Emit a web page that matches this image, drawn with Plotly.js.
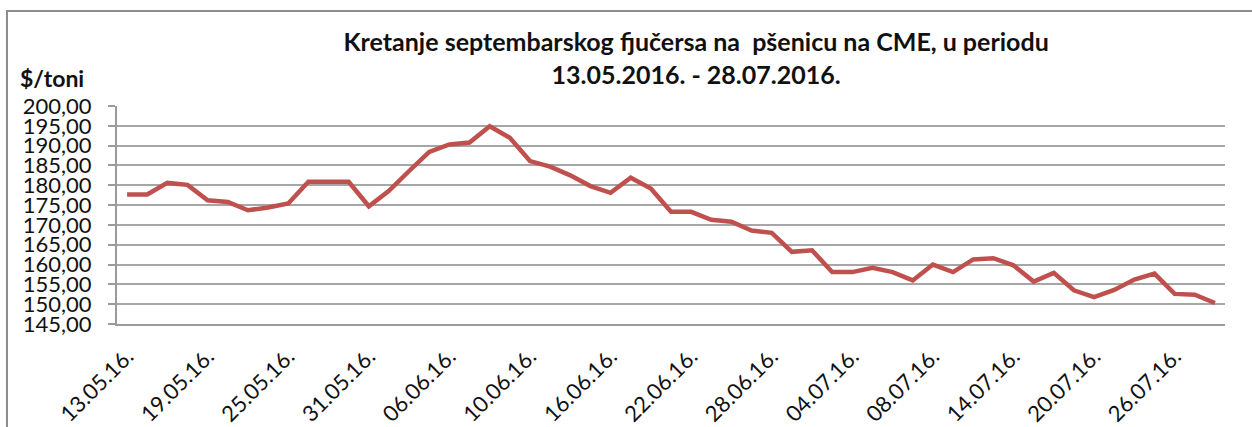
<!DOCTYPE html>
<html>
<head>
<meta charset="utf-8">
<script src="https://cdn.plot.ly/plotly-3.0.1.min.js"></script>
<style>html,body{margin:0;padding:0;background:#fff;}#chart{width:1252px;height:427px;}</style>
</head>
<body>
<div id="chart"></div>
<script>
const dates = [
  "13.05.16.","16.05.16.","17.05.16.","18.05.16.","19.05.16.","20.05.16.","23.05.16.","24.05.16.","25.05.16.","26.05.16.",
  "27.05.16.","30.05.16.","31.05.16.","01.06.16.","02.06.16.","03.06.16.","06.06.16.","07.06.16.","08.06.16.","09.06.16.",
  "10.06.16.","13.06.16.","14.06.16.","15.06.16.","16.06.16.","17.06.16.","20.06.16.","21.06.16.","22.06.16.","23.06.16.",
  "24.06.16.","27.06.16.","28.06.16.","29.06.16.","30.06.16.","01.07.16.","04.07.16.","05.07.16.","06.07.16.","07.07.16.",
  "08.07.16.","11.07.16.","12.07.16.","13.07.16.","14.07.16.","15.07.16.","18.07.16.","19.07.16.","20.07.16.","21.07.16.",
  "22.07.16.","25.07.16.","26.07.16.","27.07.16.","28.07.16."
];
const prices = [
  177.7,177.7,180.6,180.1,176.2,175.8,173.7,174.4,175.4,180.9,
  180.9,180.9,174.7,178.6,183.6,188.4,190.3,190.8,194.9,192.0,
  186.1,184.7,182.5,179.8,178.1,181.9,179.2,173.3,173.3,171.3,
  170.8,168.6,168.0,163.2,163.6,158.1,158.1,159.2,158.1,156.0,
  160.0,158.1,161.3,161.6,159.8,155.7,157.9,153.5,151.8,153.6,
  156.2,157.7,152.6,152.4,150.3
];
const tickLabels = ["13.05.16.","19.05.16.","25.05.16.","31.05.16.","06.06.16.","10.06.16.","16.06.16.",
  "22.06.16.","28.06.16.","04.07.16.","08.07.16.","14.07.16.","20.07.16.","26.07.16."];
const yTicks = [145,150,155,160,165,170,175,180,185,190,195,200];

const trace = {
  x: dates, y: prices, type: 'scatter', mode: 'lines',
  line: {color: '#C0504D', width: 4.5}, hoverinfo: 'skip'
};
const layout = {
  width: 1252, height: 427,
  margin: {l: 117, r: 27, t: 106, b: 103},
  paper_bgcolor: '#fff', plot_bgcolor: '#fff',
  separators: ',.',
  showlegend: false,
  font: {family: 'Lato, "Open Sans", sans-serif', color: '#000'},
  title: {
    text: 'Kretanje septembarskog fjučersa na  pšenicu na CME, u periodu<br>13.05.2016. - 28.07.2016.',
    font: {family: 'Lato, sans-serif', size: 25, color: '#111', weight: 'bold'},
    x: 0.556, xanchor: 'center', xref: 'container',
    y: 0.88, yanchor: 'top', yref: 'container'
  },
  xaxis: {
    type: 'category',
    range: [-0.5, dates.length - 0.5],
    tickmode: 'array', tickvals: tickLabels, ticktext: tickLabels,
    tickangle: -45, ticks: '', showgrid: false,
    ticklabelstandoff: 9,
    showline: true, linecolor: '#9a9a9a', linewidth: 2,
    tickfont: {size: 22, color: '#111'},
    zeroline: false
  },
  yaxis: {
    range: [145, 200],
    tickmode: 'array', tickvals: yTicks, tickformat: '.2f',
    ticks: 'outside', ticklen: 7, tickcolor: '#9a9a9a', tickwidth: 2,
    ticklabelstandoff: 12,
    showgrid: true, gridcolor: '#a6a6a6', gridwidth: 2,
    showline: true, linecolor: '#9a9a9a', linewidth: 2,
    tickfont: {size: 22, color: '#111'},
    zeroline: false
  },
  shapes: [{
    type: 'rect', xref: 'paper', yref: 'paper',
    x0: -0.0993, x1: 1.2, y0: -0.7, y1: 1.436,
    line: {color: '#8c8c8c', width: 2}, fillcolor: 'rgba(0,0,0,0)', layer: 'below'
  }],
  annotations: [{
    text: '<b>$/toni</b>', xref: 'paper', yref: 'paper',
    x: -0.0894, xanchor: 'left', y: 1.128, yanchor: 'middle',
    showarrow: false, font: {size: 23, color: '#111', family: 'Lato, sans-serif'}
  }]
};
Plotly.newPlot('chart', [trace], layout, {staticPlot: true});
</script>
</body>
</html>
